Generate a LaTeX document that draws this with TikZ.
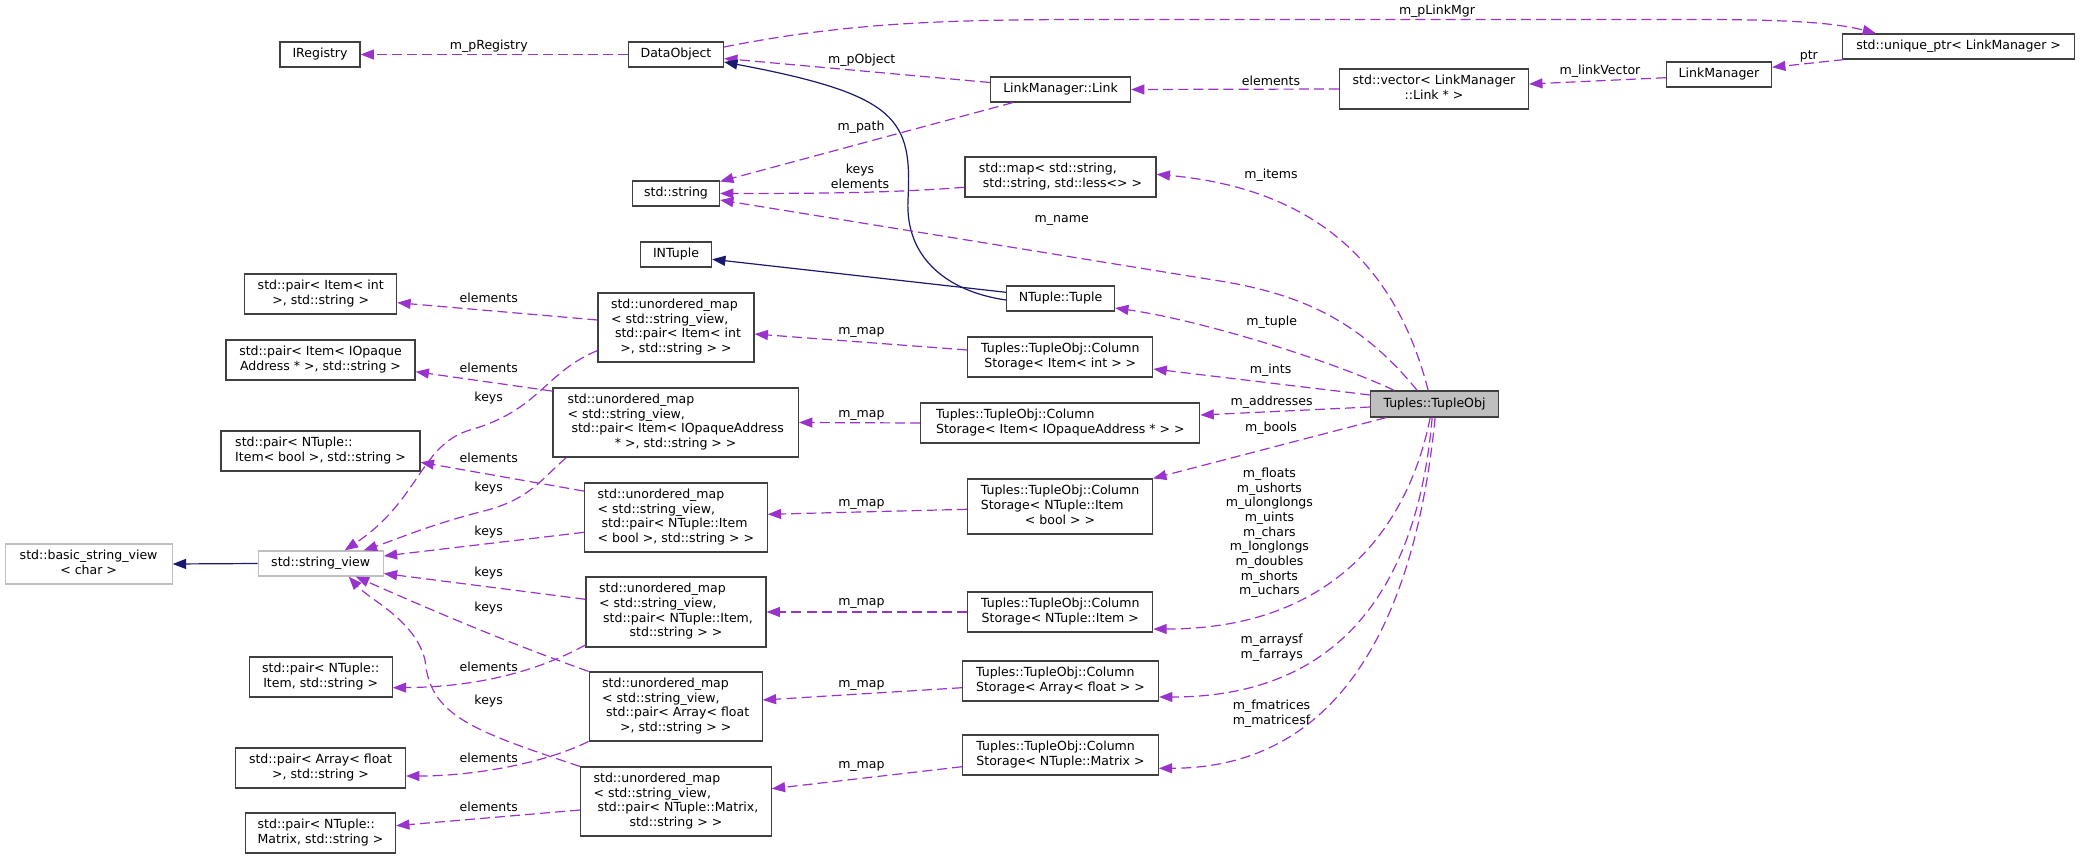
\documentclass[tikz,border=0pt]{standalone}
\usepackage{fontspec}
\setmainfont{DejaVu Sans}
\usetikzlibrary{arrows.meta,calc}
\definecolor{edgep}{HTML}{9A32CD}
\definecolor{edgeb}{HTML}{191970}
\definecolor{boxgray}{HTML}{BFBFBF}
\newcommand{\lns}[1]{\begin{tabular}{@{}l@{}}#1\end{tabular}}
\newcommand{\lastl}[1]{\multicolumn{1}{@{}c@{}}{#1}}
\renewcommand{\arraystretch}{1}
\tikzset{
  cls/.style={draw=black!75, line width=0.9pt, fill=white, inner sep=0pt, font=\fontsize{9.4}{11}\selectfont},
  wh/.style 2 args={minimum width=#1*0.75pt, minimum height=#2*0.75pt},
  member/.style={draw=edgep, line width=0.9pt, dash pattern=on 7.5pt off 3.8pt, -{Triangle[length=10pt,width=7.5pt]}},
  inherit/.style={draw=edgeb, line width=0.9pt, -{Triangle[length=10pt,width=7.5pt]}},
  lbl/.style={font=\fontsize{9.4}{11}\selectfont, align=center, inner sep=0pt}
}
\begin{document}
\begin{tikzpicture}[x={(0.75pt,0)}, y={(0,-0.75pt)}]
\useasboundingbox (0,0) rectangle (2080,859);
% ---- nodes ----
\node[cls,wh={80}{25}] (IRegistry) at (320,54.5) {IRegistry};
\node[cls,wh={95}{25}] (DataObject) at (676,54.5) {DataObject};
\node[cls,wh={140}{25}] (Link) at (1060.5,89.5) {LinkManager::Link};
\node[cls,wh={189}{40}] (vector) at (1434,89) {\lns{std::vector< LinkManager\\\lastl{::Link * >}}};
\node[cls,wh={105}{25}] (LinkManager) at (1719,74.5) {LinkManager};
\node[cls,wh={232}{25}] (uptr) at (1958.6,46.5) {std::unique\_ptr< LinkManager >};
\node[cls,wh={87}{25}] (string) at (676,193.5) {std::string};
\node[cls,wh={191}{40}] (map) at (1060.5,177) {\lns{std::map< std::string,\\\lastl{\ std::string, std::less<> >}}};
\node[cls,wh={71}{25}] (INTuple) at (676,254.5) {INTuple};
\node[cls,wh={108}{25}] (Tuple) at (1060.5,298.5) {NTuple::Tuple};
\node[cls,fill=boxgray,wh={127.5}{26}] (TupleObj) at (1434.5,404) {Tuples::TupleObj};

\node[cls,wh={152}{40}] (pint) at (320.7,294) {\lns{std::pair< Item< int\\\lastl{>, std::string >}}};
\node[cls,wh={189}{40}] (popaque) at (320.5,360) {\lns{std::pair< Item< IOpaque\\\lastl{Address * >, std::string >}}};
\node[cls,wh={199}{40}] (pbool) at (320.5,451) {\lns{std::pair< NTuple::\\\lastl{Item< bool >, std::string >}}};
\node[cls,draw=boxgray,wh={167}{40}] (bsv) at (88.6,564) {\lns{std::basic\_string\_view\\\lastl{< char >}}};
\node[cls,draw=boxgray,wh={125}{25}] (sv) at (320.7,563.5) {std::string\_view};
\node[cls,wh={143}{40}] (pitem) at (320.7,677) {\lns{std::pair< NTuple::\\\lastl{Item, std::string >}}};
\node[cls,wh={170}{40}] (parray) at (320.5,768) {\lns{std::pair< Array< float\\\lastl{>, std::string >}}};
\node[cls,wh={150}{40}] (pmatrix) at (320.5,833) {\lns{std::pair< NTuple::\\\lastl{Matrix, std::string >}}};

\node[cls,wh={156}{69}] (uint) at (676,327.5) {\lns{std::unordered\_map\\< std::string\_view,\\\ std::pair< Item< int\\\lastl{>, std::string > >}}};
\node[cls,wh={245.5}{69}] (uopaque) at (675.7,422.5) {\lns{std::unordered\_map\\< std::string\_view,\\\ std::pair< Item< IOpaqueAddress\\\lastl{* >, std::string > >}}};
\node[cls,wh={182.6}{69}] (ubool) at (675.9,517.5) {\lns{std::unordered\_map\\< std::string\_view,\\\ std::pair< NTuple::Item\\\lastl{< bool >, std::string > >}}};
\node[cls,wh={180}{70}] (uitem) at (676,612) {\lns{std::unordered\_map\\< std::string\_view,\\\ std::pair< NTuple::Item,\\\lastl{std::string > >}}};
\node[cls,wh={173}{69}] (uarray) at (675.7,706.5) {\lns{std::unordered\_map\\< std::string\_view,\\\ std::pair< Array< float\\\lastl{>, std::string > >}}};
\node[cls,wh={190.6}{69}] (umatrix) at (675.9,801.5) {\lns{std::unordered\_map\\< std::string\_view,\\\ std::pair< NTuple::Matrix,\\\lastl{std::string > >}}};

\node[cls,wh={185}{40}] (csint) at (1060.3,357) {\lns{Tuples::TupleObj::Column\\\lastl{Storage< Item< int > >}}};
\node[cls,wh={279}{40}] (csopaque) at (1060.3,423) {\lns{Tuples::TupleObj::Column\\\lastl{Storage< Item< IOpaqueAddress * > >}}};
\node[cls,wh={185}{55}] (csbool) at (1060,506.5) {\lns{Tuples::TupleObj::Column\\Storage< NTuple::Item\\\lastl{< bool > >}}};
\node[cls,wh={185}{40}] (csitem) at (1060.3,612) {\lns{Tuples::TupleObj::Column\\\lastl{Storage< NTuple::Item >}}};
\node[cls,wh={196}{40}] (csarray) at (1060.5,681) {\lns{Tuples::TupleObj::Column\\\lastl{Storage< Array< float > >}}};
\node[cls,wh={195.5}{40}] (csmatrix) at (1060.5,755) {\lns{Tuples::TupleObj::Column\\\lastl{Storage< NTuple::Matrix >}}};

% ---- edges: top ----
\draw[member] (DataObject.west) -- (IRegistry.east);
\node[lbl] (l1) at (488.8,46.7) {m\_pRegistry};
\draw[member] ($(DataObject.east)+(0,-7.5)$) .. controls (850,22) and (950,19.5) .. (1100,19.5) -- (1700,19.5) .. controls (1800,19.5) and (1840,24) .. ($(uptr.north west)+(34,0)$);
\node[lbl] (l2) at (1437,11.7) {m\_pLinkMgr};
\draw[member] ($(Link.west)+(0,-7)$) -- ($(DataObject.east)+(0,4)$);
\node[lbl] (l3) at (861.7,60.7) {m\_pObject};
\draw[inherit] ($(Tuple.west)+(0,1.5)$) .. controls (950,292) and (905,260) .. (908,200) .. controls (912,120) and (900,95) .. ($(DataObject.east)+(0,7.5)$);
\draw[inherit] ($(Tuple.west)+(0,-6.2)$) -- ($(INTuple.east)+(0,4.8)$);
\draw[member] ($(Link.south west)+(23,0)$) -- ($(string.east)+(0,-12)$);
\node[lbl] (l4) at (861,127.7) {m\_path};
\draw[member] ($(map.west)+(0,10.3)$) .. controls (900,192) and (850,193.5) .. (string.east);
\node[lbl] (l5) at (860,176) {keys\\elements};
\draw[member] (vector.west) -- (Link.east);
\node[lbl] (l6) at (1271,80.7) {elements};
\draw[member] ($(LinkManager.west)+(0,3.2)$) -- ($(vector.east)+(0,-5)$);
\node[lbl] (l7) at (1600,71.7) {m\_linkVector};
\draw[member] ($(uptr.south west)+(2,0)$) -- ($(LinkManager.east)+(0,-7.2)$);
\node[lbl] (l8) at (1808.8,56) {ptr};

% ---- edges from TupleObj ----
\draw[member] ($(TupleObj.north west)+(47,0)$) .. controls (1360,320) and (1300,295) .. (1226,282) -- ($(string.east)+(0,6.5)$);
\node[lbl] (l9) at (1061.7,220) {m\_name};
\draw[member] ($(TupleObj.north west)+(58,0)$) .. controls (1400,280) and (1330,190) .. ($(map.east)+(0,-2.7)$);
\node[lbl] (l10) at (1271,175.7) {m\_items};
\draw[member] ($(TupleObj.north west)+(24,0)$) .. controls (1330,360) and (1200,320) .. ($(Tuple.east)+(0,9.5)$);
\node[lbl] (l11) at (1271.7,322.3) {m\_tuple};
\draw[member] ($(TupleObj.west)+(0,-9)$) -- ($(csint.east)+(0,12)$);
\node[lbl] (l12) at (1270.6,370.7) {m\_ints};
\draw[member] ($(TupleObj.west)+(0,3)$) -- ($(csopaque.east)+(0,-8)$);
\node[lbl] (l13) at (1271.7,402.7) {m\_addresses};
\draw[member] ($(TupleObj.south west)+(16,0)$) -- (csbool.north east);
\node[lbl] (l14) at (1271,428.3) {m\_bools};
\draw[member] ($(TupleObj.south west)+(60,0)$) .. controls (1410,520) and (1340,629) .. ($(csitem.east)+(0,17)$);
\node[lbl] (l15) at (1269.4,533) {m\_floats\\m\_ushorts\\m\_ulonglongs\\m\_uints\\m\_chars\\m\_longlongs\\m\_doubles\\m\_shorts\\m\_uchars};
\draw[member] ($(TupleObj.south west)+(62,0)$) .. controls (1420,560) and (1360,697) .. ($(csarray.east)+(0,16)$);
\node[lbl] (l16) at (1271.7,647.5) {m\_arraysf\\m\_farrays};
\draw[member] ($(TupleObj.south west)+(65,0)$) .. controls (1415,620) and (1340,768) .. ($(csmatrix.east)+(0,13.3)$);
\node[lbl] (l17) at (1271.5,713.7) {m\_fmatrices\\m\_matricesf};

% ---- m_map edges ----
\draw[member] ($(csint.west)+(0,-7)$) -- ($(uint.east)+(0,6.5)$);
\node[lbl] (l18) at (861.4,332.7) {m\_map};
\draw[member] (csopaque.west) -- (uopaque.east);
\node[lbl] (l19) at (861.4,415) {m\_map};
\draw[member] ($(csbool.west)+(0,2.8)$) -- ($(ubool.east)+(0,-3.2)$);
\node[lbl] (l20) at (861.4,504) {m\_map};
\draw[member] (csitem.west) -- (uitem.east);
\node[lbl] (l21) at (861.4,603.3) {m\_map};
\draw[member] ($(csarray.west)+(0,6.7)$) -- ($(uarray.east)+(0,-6.5)$);
\node[lbl] (l22) at (861.4,685) {m\_map};
\draw[member] ($(csmatrix.west)+(0,11.7)$) -- ($(umatrix.east)+(0,-12.8)$);
\node[lbl] (l23) at (861.4,766.7) {m\_map};

% ---- elements edges ----
\draw[member] ($(uint.west)+(0,-7.5)$) -- ($(pint.east)+(0,8.7)$);
\node[lbl] (l24) at (488.7,298.3) {elements};
\draw[member] ($(uopaque.north west)+(0,3.7)$) -- ($(popaque.east)+(0,11.7)$);
\node[lbl] (l25) at (488.7,368.3) {elements};
\draw[member] ($(ubool.north west)+(0,8.7)$) -- ($(pbool.east)+(0,11.3)$);
\node[lbl] (l26) at (488.7,458.3) {elements};
\draw[member] ($(uitem.west)+(0,33)$) .. controls (540,670) and (480,687) .. ($(pitem.east)+(0,10.7)$);
\node[lbl] (l27) at (488.7,667.3) {elements};
\draw[member] ($(uarray.west)+(0,35)$) .. controls (540,765) and (470,776) .. ($(parray.east)+(0,8)$);
\node[lbl] (l28) at (488.7,758.3) {elements};
\draw[member] ($(umatrix.west)+(0,8.5)$) -- ($(pmatrix.east)+(0,-7.3)$);
\node[lbl] (l29) at (488.7,806.7) {elements};

% ---- keys edges ----
\draw[member] ($(uint.south west)+(0,-12)$) .. controls (545,372) and (540,410) .. (470,430) .. controls (420,445) and (420,500) .. ($(sv.north)+(24,0)$);
\node[lbl] (l30) at (488.7,398.3) {keys};
\draw[member] ($(uopaque.south west)+(14,0)$) .. controls (540,480) and (530,500) .. (480,512) .. controls (430,525) and (400,538) .. ($(sv.north)+(43,0)$);
\node[lbl] (l31) at (488.7,488.3) {keys};
\draw[member] ($(ubool.west)+(0,14.8)$) -- ($(sv.east)+(0,-7.5)$);
\node[lbl] (l32) at (488.7,531.7) {keys};
\draw[member] ($(uitem.west)+(0,-12.7)$) -- ($(sv.east)+(0,10)$);
\node[lbl] (l33) at (488.7,572.7) {keys};
\draw[member] (uarray.north west) .. controls (500,640) and (420,605) .. ($(sv.south)+(35,0)$);
\node[lbl] (l34) at (488.7,607.7) {keys};
\draw[member] (umatrix.north west) .. controls (470,730) and (430,715) .. (425,660) .. controls (415,620) and (370,600) .. ($(sv.south)+(28,0)$);
\node[lbl] (l35) at (488.7,700.7) {keys};

\draw[inherit] (sv.west) -- (bsv.east);
\end{tikzpicture}
\end{document}
